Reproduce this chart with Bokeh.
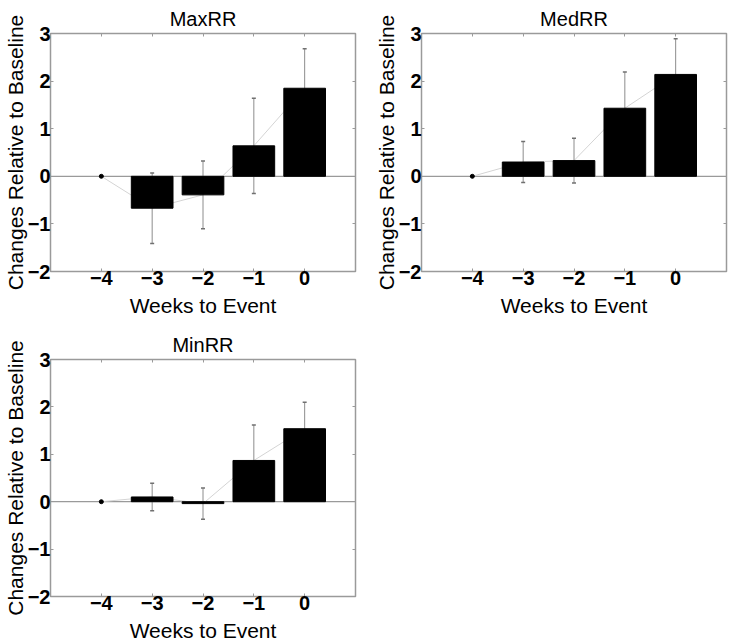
from bokeh.plotting import figure
from bokeh.models import Range1d, LinearAxis, FixedTicker, Span, ColumnDataSource
from bokeh.layouts import column, row
from bokeh.embed import file_html
from bokeh.resources import INLINE

weeks = [-4, -3, -2, -1, 0]
y_ticks = [-2, -1, 0, 1, 2, 3]

maxrr_mean = [0.0, -0.67, -0.39, 0.64, 1.85]
maxrr_err = [0.0, 0.74, 0.71, 1.00, 0.83]

medrr_mean = [0.0, 0.30, 0.33, 1.43, 2.14]
medrr_err = [0.0, 0.43, 0.47, 0.76, 0.75]

minrr_mean = [0.0, 0.10, -0.04, 0.87, 1.54]
minrr_err = [0.0, 0.29, 0.33, 0.75, 0.56]

FONT = "Liberation Sans"
FRAME = "#9a9a9a"


def make_panel(title, means, errs, width, height, bl, br, bt, bb):
    p = figure(width=width, height=height, x_range=Range1d(-5, 1), y_range=Range1d(-2, 3),
               output_backend="svg", toolbar_location=None, title=title,
               min_border_left=bl, min_border_right=br, min_border_top=bt, min_border_bottom=bb,
               x_axis_label="Weeks to Event", y_axis_label="Changes Relative to Baseline")
    p.title.align = "center"
    p.title.text_font = FONT
    p.title.text_font_size = "20px"
    p.title.text_font_style = "normal"
    p.title.text_color = "black"
    p.title.standoff = 8
    p.title.offset = 0
    p.grid.visible = False
    p.outline_line_color = FRAME
    p.outline_line_width = 1.5

    for ax, ticks in ((p.xaxis[0], weeks), (p.yaxis[0], y_ticks)):
        ax.ticker = FixedTicker(ticks=ticks)
        ax.axis_line_color = None
        ax.major_tick_in = 3
        ax.major_tick_out = 0
        ax.major_tick_line_color = FRAME
        ax.minor_tick_line_color = None
        ax.major_label_text_font = FONT
        ax.major_label_text_font_size = "20px"
        ax.major_label_text_font_style = "bold"
        ax.major_label_text_color = "black"
        ax.axis_label_text_font = FONT
        ax.axis_label_text_font_size = "21px"
        ax.axis_label_text_font_style = "normal"
        ax.axis_label_text_color = "black"
    p.xaxis[0].major_label_standoff = -1
    p.xaxis[0].axis_label_standoff = 6
    p.yaxis[0].major_label_standoff = 0
    p.yaxis[0].axis_label_standoff = -2

    for loc, ticks in (("above", weeks), ("right", y_ticks)):
        ax = LinearAxis(ticker=FixedTicker(ticks=ticks), axis_line_color=None,
                        major_tick_in=3, major_tick_out=0, major_tick_line_color=FRAME,
                        minor_tick_line_color=None, major_label_text_font_size="0px",
                        major_label_standoff=0)
        ax.major_label_overrides = {t: "" for t in ticks}
        p.add_layout(ax, loc)

    lower = [m - e for m, e in zip(means, errs)]
    upper = [m + e for m, e in zip(means, errs)]
    src = ColumnDataSource(dict(x=weeks, mean=means, lo=lower, hi=upper,
                                lc=["black" if m != 0 else None for m in means],
                                dc=[None if m != 0 else "black" for m in means]))

    p.add_layout(Span(location=0, dimension="width", line_color=FRAME, line_width=1.2, level="underlay"))
    p.line("x", "mean", source=src, line_color="#d4d4d4", line_width=1)
    p.segment("x", "lo", "x", "hi", source=src, line_color="#8c8c8c", line_width=1)
    p.scatter("x", "lo", source=src, marker="dash", size=4, line_color="#707070", line_width=1.5)
    p.scatter("x", "hi", source=src, marker="dash", size=4, line_color="#707070", line_width=1.5)
    p.scatter("x", "mean", source=src, size=4, fill_color="dc", line_color="dc")
    p.vbar(x="x", top="mean", bottom=0, width=0.82, source=src, fill_color="black",
           line_color="lc", line_width=1)
    return p


p1 = make_panel("MaxRR", maxrr_mean, maxrr_err, 371, 322, 50, 16, 33, 51)
p2 = make_panel("MedRR", medrr_mean, medrr_err, 371, 322, 50, 16, 33, 51)
p3 = make_panel("MinRR", minrr_mean, minrr_err, 371, 322, 50, 16, 37, 47)

layout = column(row(p1, p2), p3)
open("out.html", "w").write(file_html(layout, INLINE))
